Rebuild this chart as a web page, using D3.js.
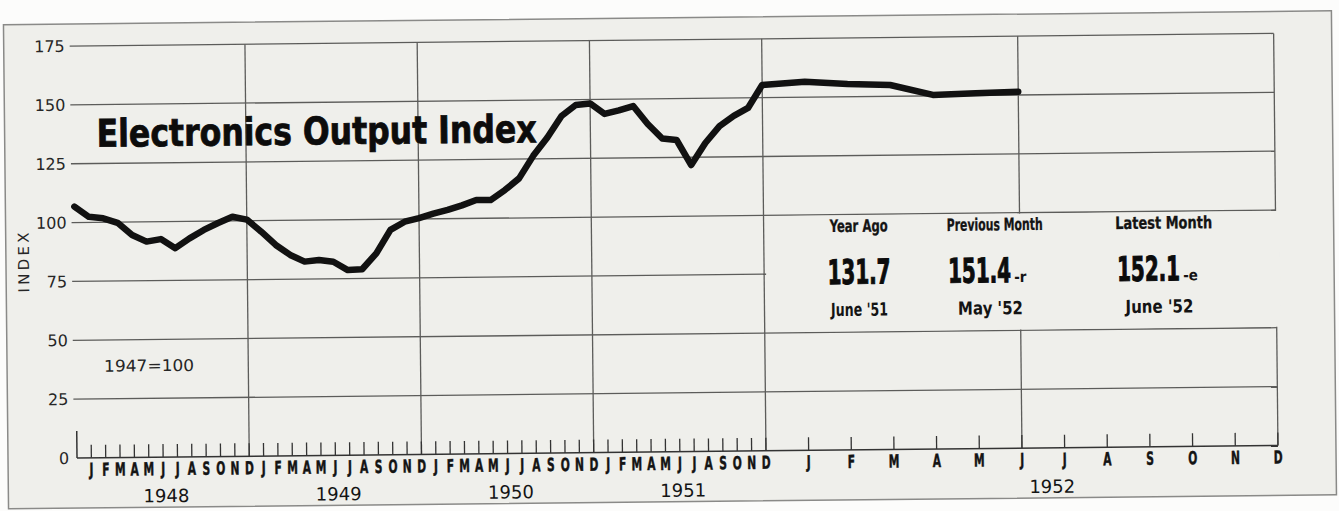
<!DOCTYPE html>
<html>
<head>
<meta charset="utf-8">
<script src="https://cdn.jsdelivr.net/npm/d3@7"></script>
<style>
html, body { margin: 0; padding: 0; background: #fcfcfb; }
svg { display: block; }
</style>
</head>
<body>
<svg id="chart" width="1339" height="511"></svg>
<script>
// month index: 0 = Jan 1948, the first value sits on Dec 1947 (-1)
const firstMonth = -1;
const indexValues = [106.8,
  102.4, 101.7, 99.7, 94.5, 91.6, 92.6, 88.7, 92.8, 96.3, 99.2, 101.8, 100.5,
  95.3, 89.6, 85.3, 82.4, 83.0, 82.2, 78.6, 78.9, 85.6, 95.5, 98.9, 100.4,
  102.2, 103.7, 105.6, 107.8, 107.7, 111.9, 116.8, 126.3, 134.0, 143.1, 147.7, 148.3,
  143.8, 145.2, 147.0, 139.3, 133.1, 132.4, 121.7, 131.0, 138.1, 142.4, 145.7, 155.4,
  156.6, 155.4, 154.8, 150.4, 150.9, 151.4];
const monthLetters = ["J", "F", "M", "A", "M", "J", "J", "A", "S", "O", "N", "D"];
const years = [1948, 1949, 1950, 1951, 1952];
const yTicks = [0, 25, 50, 75, 100, 125, 150, 175];
const statHeads = ["Year Ago", "Previous Month", "Latest Month"];
const statValues = ["131.7", "151.4", "152.1"];
const statFlags = ["", "-r", "-e"];
const statDates = ["June '51", "May '52", "June '52"];

const bg = "#efefeb";
const ink = "#141414";
const condensed = "'DejaVu Sans Condensed', 'DejaVu Sans', sans-serif";
const plain = "'DejaVu Sans', sans-serif";

const svg = d3.select("#chart");

// 1948-51 are squeezed, 1952 gets the wide months
const x = d3.scaleLinear().domain([-1, 47, 59]).range([77, 766, 1278]);
const y = d3.scaleLinear().domain([0, 175]).range([458, 46]);

// squeeze a text to a given width with a real scale, so its box shrinks too
function squeeze(sel, px, py, width, sy) {
  const len = sel.node().getComputedTextLength();
  sel.attr("transform", `translate(${px},${py}) scale(${width / len},${sy || 1})`);
  return sel;
}

// the printed page is scanned slightly tilted
const g = svg.append("g").attr("transform", "rotate(-0.6, 77, 457)");

// frame
g.append("rect")
  .attr("x", 8).attr("y", 24).attr("width", 1328).attr("height", 484)
  .attr("fill", bg).attr("stroke", "#8a8a88").attr("stroke-width", 1.5);

// horizontal grid
g.append("g").selectAll("line")
  .data(yTicks.filter(d => d > 0))
  .join("line")
  .attr("x1", 74).attr("x2", x(59))
  .attr("y1", d => y(d)).attr("y2", d => y(d))
  .attr("stroke", "#5c5c5a").attr("stroke-width", 1.3);

// vertical grid: year ends, plus mid 1952
const vLines = [11, 23, 35, 47, 53, 59];
g.append("g").selectAll("line")
  .data(vLines)
  .join("line")
  .attr("x1", d => x(d)).attr("x2", d => x(d))
  .attr("y1", y(175)).attr("y2", y(0))
  .attr("stroke", "#5c5c5a").attr("stroke-width", 1.3);

// baseline and month ticks
g.append("line")
  .attr("x1", x(-1)).attr("x2", x(59))
  .attr("y1", y(0)).attr("y2", y(0))
  .attr("stroke", "#333").attr("stroke-width", 1.5);
g.append("line")
  .attr("x1", x(-1)).attr("x2", x(-1))
  .attr("y1", y(0)).attr("y2", y(0) - 27)
  .attr("stroke", "#333").attr("stroke-width", 1.5);
const months = d3.range(0, 60);
g.append("g").selectAll("line")
  .data(months)
  .join("line")
  .attr("x1", d => x(d)).attr("x2", d => x(d))
  .attr("y1", y(0)).attr("y2", y(0) - 13)
  .attr("stroke", "#333").attr("stroke-width", 1.3);

// month letters
g.append("g").selectAll("g")
  .data(months)
  .join("g")
  .attr("transform", d => `translate(${x(d)},476) scale(1,1.5)`)
  .append("text")
  .attr("text-anchor", "middle")
  .attr("font-family", condensed).attr("font-weight", "bold")
  .attr("font-size", 12).attr("fill", ink)
  .attr("stroke", ink).attr("stroke-width", 0.3)
  .text(d => monthLetters[d % 12]);

// years
g.append("g").selectAll("text")
  .data(years)
  .join("text")
  .attr("x", (d, i) => x(i * 12 + (d === 1952 ? 5.7 : 5.2)))
  .attr("y", 503)
  .attr("text-anchor", "middle")
  .attr("font-family", plain).attr("font-size", 18).attr("fill", ink)
  .text(d => d);

// y labels
g.append("g").selectAll("text")
  .data(yTicks)
  .join("text")
  .attr("x", 69).attr("y", d => y(d))
  .attr("dy", "0.36em")
  .attr("text-anchor", "end")
  .attr("font-family", plain).attr("font-size", 16).attr("fill", "#262626")
  .text(d => d);

g.append("text")
  .attr("transform", "translate(31,262) rotate(-90)")
  .attr("text-anchor", "middle")
  .attr("font-family", plain).attr("font-size", 15).attr("fill", "#262626")
  .attr("textLength", 60).attr("lengthAdjust", "spacing")
  .text("INDEX");

g.append("text")
  .attr("x", 105).attr("y", 372)
  .attr("font-family", plain).attr("font-size", 16).attr("fill", "#262626")
  .attr("textLength", 90).attr("lengthAdjust", "spacingAndGlyphs")
  .text("1947=100");

// title
g.append("g")
  .attr("transform", "translate(100,147) scale(1,1.27)")
  .append("text")
  .attr("font-family", condensed).attr("font-weight", "bold")
  .attr("font-size", 30).attr("fill", "#0c0c0c")
  .attr("stroke", "#0c0c0c").attr("stroke-width", 0.6)
  .attr("textLength", 440).attr("lengthAdjust", "spacingAndGlyphs")
  .text("Electronics Output Index");

// the index line
const line = d3.line()
  .x((d, i) => x(firstMonth + i))
  .y(d => y(d));
g.append("path")
  .datum(indexValues)
  .attr("d", line)
  .attr("fill", "none").attr("stroke", "#111")
  .attr("stroke-width", 6.5)
  .attr("stroke-linejoin", "round").attr("stroke-linecap", "round");

// stats panel sits on a blank patch between the 100 and 50 lines
g.append("rect")
  .attr("x", x(47) + 2).attr("y", y(100) + 1)
  .attr("width", x(59) - x(47) + 2).attr("height", y(50) - y(100) - 2)
  .attr("fill", bg);

const statX = [861, 997, 1166];
statHeads.forEach((h, i) => {
  const cx = statX[i];
  const flag = statFlags[i];
  const gw = 63 + (flag ? 21 : 0);
  const sx = cx - gw / 2 - (flag ? 5 : 0);

  g.append("text")
    .attr("x", cx).attr("y", 240)
    .attr("text-anchor", "middle")
    .attr("font-family", condensed).attr("font-weight", "bold")
    .attr("font-size", 17).attr("fill", ink)
    .attr("stroke", ink).attr("stroke-width", 0.3)
    .attr("textLength", [58, 96, 97][i]).attr("lengthAdjust", "spacingAndGlyphs")
    .text(h);

  const num = g.append("text")
    .attr("font-family", condensed).attr("font-weight", "bold")
    .attr("font-size", 34).attr("fill", "#0c0c0c")
    .attr("stroke", "#0c0c0c").attr("stroke-width", 1)
    .text(statValues[i]);
  squeeze(num, sx, 292, 63);

  if (flag) {
    g.append("text")
      .attr("x", sx + 66).attr("y", 292)
      .attr("font-family", condensed).attr("font-weight", "bold")
      .attr("font-size", 15).attr("fill", ink)
      .text(flag);
  }

  const date = g.append("text")
    .attr("text-anchor", "middle")
    .attr("font-family", plain).attr("font-weight", "bold")
    .attr("font-size", 18).attr("fill", ink)
    .text(statDates[i]);
  squeeze(date, sx + gw / 2, 324, [57, 65, 68][i]);
});
</script>
</body>
</html>
